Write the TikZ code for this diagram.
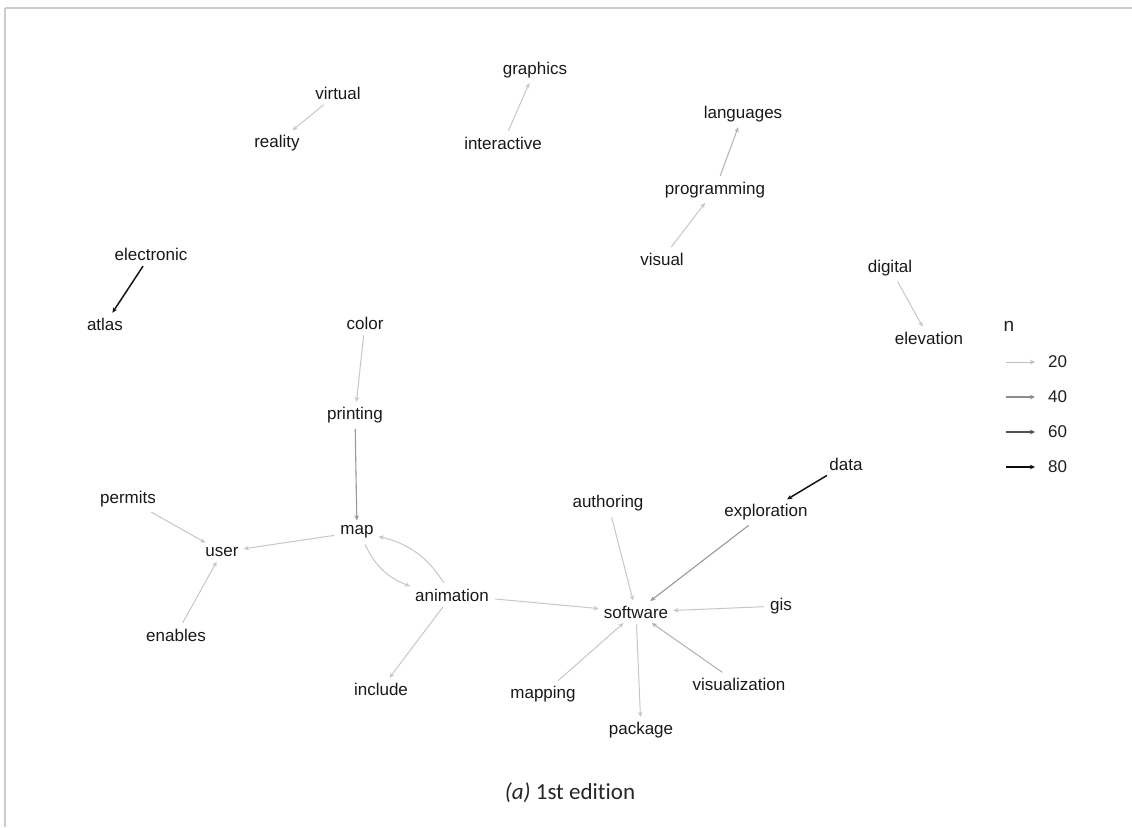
\documentclass[tikz,border=0pt]{standalone}
\usepackage{fontspec}
\setmainfont{Liberation Sans}
\newfontfamily\capfont[Ligatures=NoCommon]{Carlito}
\usetikzlibrary{arrows.meta}
\begin{document}
\begin{tikzpicture}[x=1pt,y=-1pt,
  lbl/.style={font=\fontsize{17}{20}\selectfont, inner sep=4pt, text=black!90},
  link/.style={-{Stealth[length=5pt,width=4.5pt,inset=1.5pt]}, line width=1pt, shorten >=1pt, shorten <=2pt},
  w20/.style={link, draw=black!22},
  w30/.style={link, draw=black!30},
  w40/.style={link, draw=black!40, line width=1.1pt},
  w80/.style={link, draw=black!92, line width=1.5pt},
  key/.style={font=\fontsize{17}{20}\selectfont, text=black!88, anchor=west, inner sep=0pt}]
\fill[white] (0,0) rectangle (1132,827);
\useasboundingbox (0,0) rectangle (1132,827);
% frame
\draw[black!20, line width=2pt] (5,8) -- (1132,8);
\draw[black!20, line width=1.5pt] (5,8) -- (5,827);

% word nodes
\node[lbl] (virtual) at (338,93) {virtual};
\node[lbl] (reality) at (277,143) {reality};
\node[lbl] (graphics) at (535,70) {graphics};
\node[lbl] (interactive) at (503,143) {interactive};
\node[lbl] (languages) at (743,114) {languages};
\node[lbl] (programming) at (715,190) {programming};
\node[lbl] (visual) at (662,259) {visual};
\node[lbl] (electronic) at (151,254) {electronic};
\node[lbl] (atlas) at (105,324) {atlas};
\node[lbl] (digital) at (890,268) {digital};
\node[lbl] (elevation) at (929,338) {elevation};
\node[lbl] (color) at (365,323) {color};
\node[lbl] (printing) at (355,415) {printing};
\node[lbl] (data) at (846,464) {data};
\node[lbl] (authoring) at (608,503) {authoring};
\node[lbl] (exploration) at (766,512) {exploration};
\node[lbl] (permits) at (128,499) {permits};
\node[lbl] (user) at (222,552) {user};
\node[lbl] (map) at (357,532) {map};
\node[lbl] (animation) at (452,595) {animation};
\node[lbl] (software) at (636,612) {software};
\node[lbl] (gis) at (781,606) {gis};
\node[lbl] (enables) at (176,635) {enables};
\node[lbl] (include) at (381,689) {include};
\node[lbl] (mapping) at (543,694) {mapping};
\node[lbl] (visualization) at (739,684) {visualization};
\node[lbl] (package) at (641,730) {package};

% links
\draw[w20] (virtual) -- (reality);
\draw[w20] (interactive) -- (graphics);
\draw[w30] (programming) -- (languages);
\draw[w20] (visual) -- (programming);
\draw[w80] (electronic) -- (atlas);
\draw[w20] (digital) -- (elevation);
\draw[w20] (color) -- (printing);
\draw[w40] (printing) -- (map);
\draw[w80] (data) -- (exploration);
\draw[w20] (authoring) -- (software);
\draw[w40] (exploration) -- (software);
\draw[w20] (permits) -- (user);
\draw[w20] (map) -- (user);
\draw[w20] (enables) -- (user);
\draw[w20] (map) to[bend right=22] (animation);
\draw[w20] (animation) to[bend right=22] (map);
\draw[w20] (animation) -- (software);
\draw[w20] (animation) -- (include);
\draw[w20] (gis) -- (software);
\draw[w20] (mapping) -- (software);
\draw[w30] (visualization) -- (software);
\draw[w20] (software) -- (package);

% legend
\node[font=\fontsize{19}{22}\selectfont, text=black!88] (ntitle) at (1009,326) {n};
\coordinate (a1) at (1006,362); \coordinate (b1) at (1035,362);
\coordinate (a2) at (1006,397); \coordinate (b2) at (1035,397);
\coordinate (a3) at (1006,432); \coordinate (b3) at (1035,432);
\coordinate (a4) at (1006,467); \coordinate (b4) at (1035,467);
\draw[-{Stealth[length=5pt,width=4.5pt,inset=1.5pt]}, draw=black!25, line width=1pt] (a1) -- (b1);
\draw[-{Stealth[length=5pt,width=4.5pt,inset=1.5pt]}, draw=black!45, line width=1.2pt] (a2) -- (b2);
\draw[-{Stealth[length=5pt,width=4.5pt,inset=1.5pt]}, draw=black!68, line width=1.5pt] (a3) -- (b3);
\draw[-{Stealth[length=5pt,width=4.5pt,inset=1.5pt]}, draw=black!95, line width=1.7pt] (a4) -- (b4);
\node[key] (k1) at (1048,362) {20};
\node[key] (k2) at (1048,397) {40};
\node[key] (k3) at (1048,432) {60};
\node[key] (k4) at (1048,467) {80};

% caption
\node[font=\capfont\fontsize{23}{27}\selectfont, text=black!85] (caption) at (570,793) {\textit{(a)} 1st edition};
\end{tikzpicture}
\end{document}
